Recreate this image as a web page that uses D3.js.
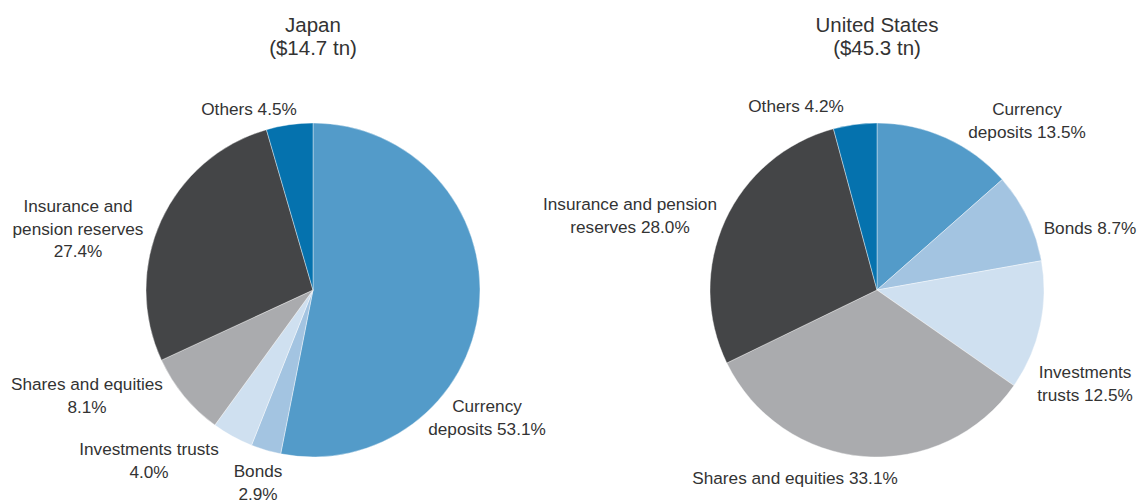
<!DOCTYPE html>
<html>
<head>
<meta charset="utf-8">
<script src="https://cdn.jsdelivr.net/npm/d3@7"></script>
<style>
  body { margin: 0; background: #fff; }
  text { font-family: "Liberation Sans", Arial, sans-serif; fill: #333; }
</style>
</head>
<body>
<div id="chart"></div>
<script>
// categories in clockwise order from 12 o'clock
const categories = ["Currency deposits", "Bonds", "Investments trusts", "Shares and equities", "Insurance and pension reserves", "Others"];
const japanValues = [53.1, 2.9, 4.0, 8.1, 27.4, 4.5];
const usValues = [13.5, 8.7, 12.5, 33.1, 28.0, 4.2];
const titles = [["Japan", "($14.7 tn)"], ["United States", "($45.3 tn)"]];
const colours = ["#539bc9", "#a3c4e1", "#cfe0f0", "#aaabae", "#444547", "#0572ae"];

// label lines and anchor spots for each pie
const japanLabels = [
  {lines: ["Currency", "deposits 53.1%"], x: 487, y: 412},
  {lines: ["Bonds", "2.9%"], x: 258, y: 477},
  {lines: ["Investments trusts", "4.0%"], x: 149, y: 455},
  {lines: ["Shares and equities", "8.1%"], x: 87, y: 390},
  {lines: ["Insurance and", "pension reserves", "27.4%"], x: 78, y: 212},
  {lines: ["Others 4.5%"], x: 249, y: 115}
];
const usLabels = [
  {lines: ["Currency", "deposits 13.5%"], x: 1027, y: 115},
  {lines: ["Bonds 8.7%"], x: 1090, y: 234},
  {lines: ["Investments", "trusts 12.5%"], x: 1085, y: 378},
  {lines: ["Shares and equities 33.1%"], x: 795, y: 484},
  {lines: ["Insurance and pension", "reserves 28.0%"], x: 630, y: 210},
  {lines: ["Others 4.2%"], x: 796, y: 112}
];

const width = 1148, height = 502;
const svg = d3.select("#chart").append("svg")
  .attr("width", width)
  .attr("height", height);

const colour = d3.scaleOrdinal().domain(categories).range(colours);
const radius = 167;
const pie = d3.pie().sort(null);
const arc = d3.arc().innerRadius(0).outerRadius(radius);

const pies = [
  {values: japanValues, cx: 313, cy: 290, title: titles[0], labels: japanLabels, tx: 313},
  {values: usValues, cx: 877, cy: 290, title: titles[1], labels: usLabels, tx: 877}
];

pies.forEach(p => {
  const g = svg.append("g").attr("transform", `translate(${p.cx},${p.cy})`);
  g.selectAll("path")
    .data(pie(p.values))
    .join("path")
    .attr("d", arc)
    .attr("fill", (d, i) => colour(categories[i]))
    .attr("stroke", "#fff")
    .attr("stroke-width", 0.4);

  svg.append("text")
    .attr("x", p.tx)
    .attr("text-anchor", "middle")
    .style("font-size", "20.5px")
    .selectAll("tspan")
    .data(p.title)
    .join("tspan")
    .attr("x", p.tx)
    .attr("y", (d, i) => 32 + i * 23)
    .text(d => d);

  p.labels.forEach(l => {
    svg.append("text")
      .attr("text-anchor", "middle")
      .style("font-size", "17.2px")
      .selectAll("tspan")
      .data(l.lines)
      .join("tspan")
      .attr("x", l.x)
      .attr("y", (d, i) => l.y + i * 22.5)
      .text(d => d);
  });
});
</script>
</body>
</html>
